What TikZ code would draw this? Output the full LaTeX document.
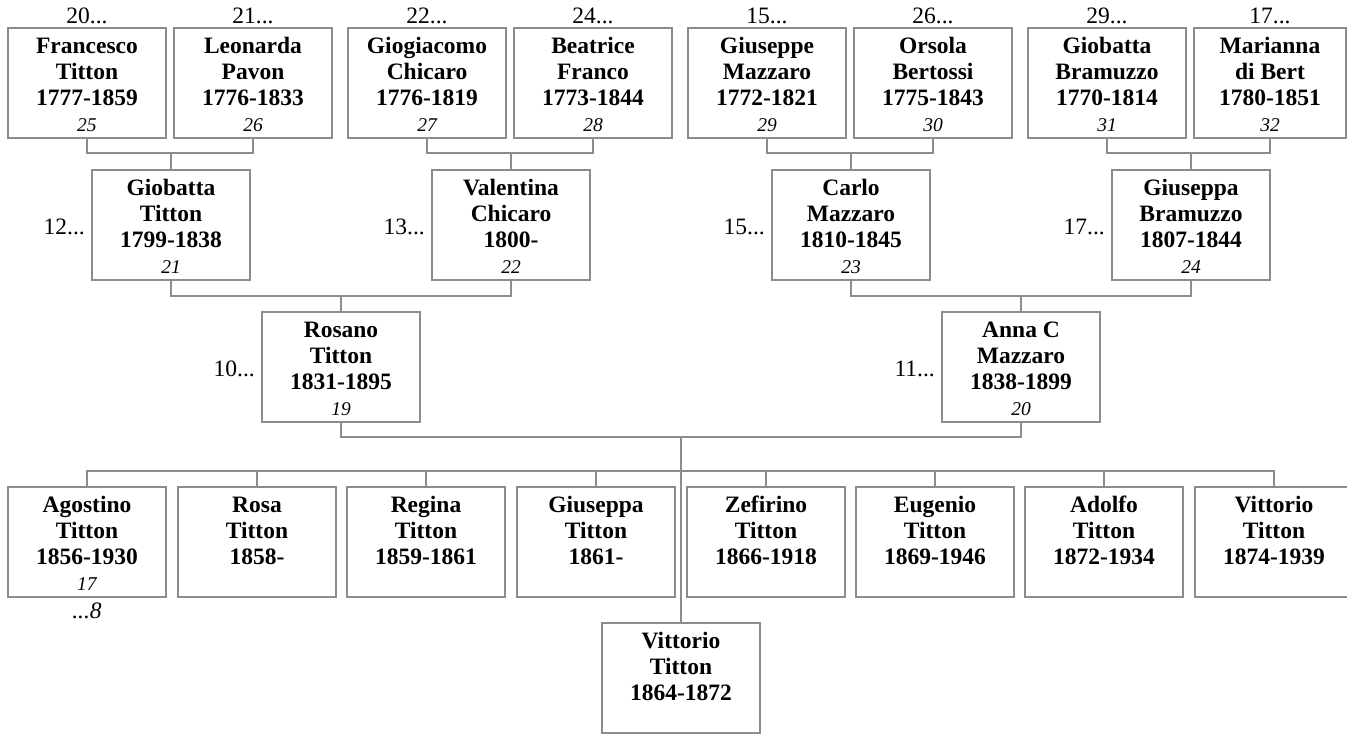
\documentclass[tikz,border=0pt]{standalone}
\usepackage{fontspec}
\setmainfont{Liberation Serif}
\usetikzlibrary{calc}
\definecolor{linegray}{RGB}{140,140,140}
\newcommand{\ptext}[5][158pt]{\parbox[t][110pt][t]{#1}{\centering\rule{0pt}{25pt}#2\\#3\\#4\\{\normalfont\itshape\fontsize{19.5}{26}\selectfont #5}}}
\begin{document}
\begin{tikzpicture}[x=1pt,y=-1pt,
  pbox/.style={draw=linegray, line width=1.2pt, inner sep=0pt, outer sep=0pt, anchor=north west, font=\fontsize{23.5}{26}\selectfont\bfseries},
  conn/.style={draw=linegray, line width=1.2pt},
  toplab/.style={anchor=base, inner sep=0pt, font=\fontsize{23.5}{26}\selectfont},
  sidelab/.style={anchor=base east, inner sep=0pt, font=\fontsize{23.5}{26}\selectfont},
  sublab/.style={anchor=base, inner sep=0pt, font=\fontsize{23.5}{26}\selectfont\itshape}]
\useasboundingbox (0,0) rectangle (1347,734);

% great-grandparents
\node[pbox] (f1) at (8,28)    {\ptext{Francesco}{Titton}{1777-1859}{25}};
\node[pbox] (f2) at (174,28)  {\ptext{Leonarda}{Pavon}{1776-1833}{26}};
\node[pbox] (f3) at (348,28)  {\ptext{Giogiacomo}{Chicaro}{1776-1819}{27}};
\node[pbox] (f4) at (514,28)  {\ptext{Beatrice}{Franco}{1773-1844}{28}};
\node[pbox] (f5) at (688,28)  {\ptext{Giuseppe}{Mazzaro}{1772-1821}{29}};
\node[pbox] (f6) at (854,28)  {\ptext{Orsola}{Bertossi}{1775-1843}{30}};
\node[pbox] (f7) at (1028,28) {\ptext{Giobatta}{Bramuzzo}{1770-1814}{31}};
\node[pbox] (f8) at (1194,28) {\ptext[152pt]{Marianna}{di Bert}{1780-1851}{32}};

\node[toplab] (t1) at ([yshift=5pt]f1.north) {20...};
\node[toplab] (t2) at ([yshift=5pt]f2.north) {21...};
\node[toplab] (t3) at ([yshift=5pt]f3.north) {22...};
\node[toplab] (t4) at ([yshift=5pt]f4.north) {24...};
\node[toplab] (t5) at ([yshift=5pt]f5.north) {15...};
\node[toplab] (t6) at ([yshift=5pt]f6.north) {26...};
\node[toplab] (t7) at ([yshift=5pt]f7.north) {29...};
\node[toplab] (t8) at ([yshift=5pt]f8.north) {17...};

% grandparents
\node[pbox] (p1) at (92,170)   {\ptext{Giobatta}{Titton}{1799-1838}{21}};
\node[pbox] (p2) at (432,170)  {\ptext{Valentina}{Chicaro}{1800-}{22}};
\node[pbox] (p3) at (772,170)  {\ptext{Carlo}{Mazzaro}{1810-1845}{23}};
\node[pbox] (p4) at (1112,170) {\ptext{Giuseppa}{Bramuzzo}{1807-1844}{24}};

\node[sidelab] (s1) at ([xshift=-7pt,yshift=-9.5pt]p1.west) {12...};
\node[sidelab] (s2) at ([xshift=-7pt,yshift=-9.5pt]p2.west) {13...};
\node[sidelab] (s3) at ([xshift=-7pt,yshift=-9.5pt]p3.west) {15...};
\node[sidelab] (s4) at ([xshift=-7pt,yshift=-9.5pt]p4.west) {17...};

% parents
\node[pbox] (g1) at (262,312) {\ptext{Rosano}{Titton}{1831-1895}{19}};
\node[pbox] (g2) at (942,312) {\ptext{Anna C}{Mazzaro}{1838-1899}{20}};
\node[sidelab] (s5) at ([xshift=-7pt,yshift=-9.5pt]g1.west) {10...};
\node[sidelab] (s6) at ([xshift=-7pt,yshift=-9.5pt]g2.west) {11...};

% children
\node[pbox] (c1) at (8,487)    {\ptext{Agostino}{Titton}{1856-1930}{17}};
\node[pbox] (c2) at (178,487)  {\ptext{Rosa}{Titton}{1858-}{}};
\node[pbox] (c3) at (347,487)  {\ptext{Regina}{Titton}{1859-1861}{}};
\node[pbox] (c4) at (517,487)  {\ptext{Giuseppa}{Titton}{1861-}{}};
\node[pbox] (c5) at (687,487)  {\ptext{Zefirino}{Titton}{1866-1918}{}};
\node[pbox] (c6) at (856,487)  {\ptext{Eugenio}{Titton}{1869-1946}{}};
\node[pbox] (c7) at (1025,487) {\ptext{Adolfo}{Titton}{1872-1934}{}};
\node[pbox] (c8) at (1195,487) {\ptext{Vittorio}{Titton}{1874-1939}{}};
\node[pbox] (vit) at (602,623) {\ptext{Vittorio}{Titton}{1864-1872}{}};
\node[sublab] (a8) at ([yshift=-21pt]c1.south) {...8};

% connectors
\draw[conn] (f1.south) -- ++(0,-15pt) -| (f2.south);
\draw[conn] (f3.south) -- ++(0,-15pt) -| (f4.south);
\draw[conn] (f5.south) -- ++(0,-15pt) -| (f6.south);
\draw[conn] (f7.south) -- ++(0,-15pt) -| (f8.south);
\foreach \p in {p1,p2,p3,p4} \draw[conn] (\p.north) -- ++(0,17pt);
\draw[conn] (p1.south) -- ++(0,-16pt) -| (p2.south);
\draw[conn] (p3.south) -- ++(0,-16pt) -| (p4.south);
\foreach \g in {g1,g2} \draw[conn] (\g.north) -- ++(0,16pt);
\draw[conn] (g1.south) -- ++(0,-15pt) -| (g2.south);
\coordinate (pbar) at ($(g1.south)!0.5!(g2.south)+(0,-15pt)$);
\coordinate (kbar) at ($(pbar)+(0,-34pt)$);
\draw[conn] (pbar) -- (vit.north);
\draw[conn] (c1.north) |- (kbar) -| (c8.north);
\foreach \c in {c2,c3,c4,c5,c6,c7} \draw[conn] (\c.north) -- (\c.north |- kbar);
\end{tikzpicture}
\end{document}
